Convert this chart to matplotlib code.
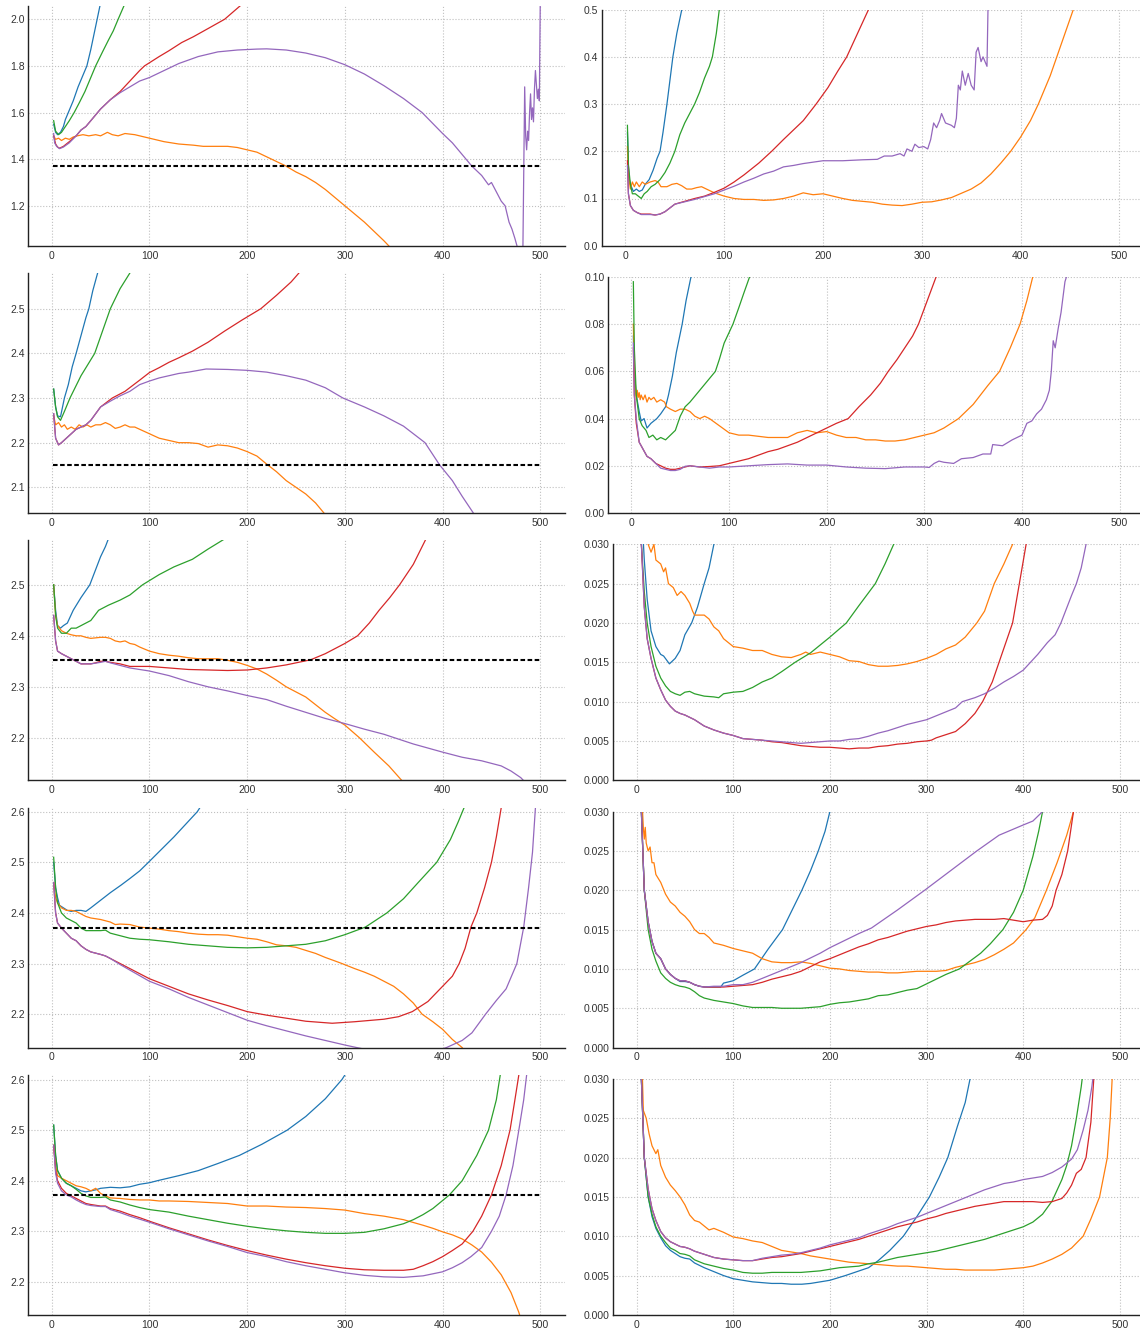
import numpy as np
import matplotlib
matplotlib.use("Agg")
import matplotlib.pyplot as plt
from matplotlib.ticker import MultipleLocator

plt.rcParams['font.family'] = ['Liberation Sans', 'DejaVu Sans']
plt.rcParams['font.size'] = 7.5

# ---- row 1 ----
R1L_BLUE = [(2,1.55),(4,1.515),(6,1.505),(9,1.515),(12,1.54),(14,1.57),(17,1.6),(22,1.65),(27,1.71),(32,1.76),(36,1.8),(40,1.87),(44,1.95),(47,2.01),(50,2.07)]
R1L_ORANGE = [(2,1.5),(4,1.485),(7,1.49),(10,1.48),(14,1.49),(18,1.485),(22,1.495),(26,1.5),(32,1.505),(38,1.5),(45,1.505),(50,1.5),(57,1.515),(62,1.505),(68,1.5),(75,1.51),(85,1.505),(95,1.495),(105,1.485),(115,1.475),(130,1.465),(145,1.46),(155,1.455),(165,1.455),(180,1.455),(190,1.45),(200,1.44),(210,1.43),(220,1.41),(230,1.39),(239,1.372),(250,1.345),(260,1.325),(270,1.3),(280,1.27),(290,1.235),(300,1.2),(310,1.165),(320,1.13),(330,1.09),(340,1.05),(345,1.028),(350,1.005)]
R1L_GREEN = [(2,1.565),(4,1.52),(7,1.505),(10,1.515),(14,1.54),(18,1.565),(23,1.6),(28,1.64),(34,1.69),(40,1.75),(45,1.8),(52,1.86),(58,1.91),(63,1.95),(68,2.0),(74,2.058),(77,2.09)]
R1L_RED = [(2,1.5),(4,1.465),(6,1.452),(8,1.447),(12,1.455),(18,1.475),(25,1.5),(30,1.525),(35,1.54),(40,1.565),(45,1.59),(50,1.615),(60,1.655),(70,1.69),(80,1.735),(90,1.78),(95,1.8),(110,1.84),(120,1.865),(133,1.9),(145,1.925),(160,1.96),(177,2.0),(193,2.058),(198,2.075)]
R1L_PURPLE = [(2,1.51),(3,1.47),(5,1.455),(8,1.445),(12,1.452),(18,1.47),(25,1.5),(30,1.525),(35,1.54),(40,1.565),(45,1.59),(50,1.615),(60,1.655),(70,1.685),(80,1.71),(90,1.735),(100,1.75),(115,1.78),(130,1.81),(150,1.84),(170,1.86),(190,1.868),(210,1.872),(220,1.873),(240,1.868),(260,1.855),(280,1.835),(300,1.805),(320,1.765),(340,1.715),(360,1.66),(379,1.6),(400,1.51),(410,1.47),(424,1.4),(430,1.37),(440,1.33),(447,1.29),(450,1.3),(455,1.26),(460,1.22),(464,1.2),(468,1.13),(471,1.1),(474,1.06),(476,1.03),(479,0.98),(482,0.95),(484,1.71),(485,1.5),(486,1.44),(487,1.52),(488,1.48),(489,1.6),(490,1.68),(491,1.57),(492,1.62),(493,1.56),(494,1.7),(495,1.78),(496,1.72),(497,1.66),(498,1.7),(499,1.65),(500,2.1)]

R1R_BLUE = [(2,0.24),(3,0.17),(4,0.14),(6,0.125),(8,0.115),(11,0.12),(14,0.115),(17,0.118),(20,0.13),(24,0.14),(28,0.16),(32,0.185),(35,0.2),(38,0.24),(42,0.3),(45,0.35),(48,0.4),(52,0.45),(57,0.5),(59,0.53)]
R1R_ORANGE = [(2,0.21),(3,0.15),(5,0.12),(7,0.135),(9,0.125),(11,0.135),(14,0.125),(17,0.135),(20,0.13),(25,0.135),(30,0.138),(33,0.135),(36,0.125),(42,0.125),(47,0.13),(52,0.132),(57,0.127),(62,0.12),(67,0.12),(72,0.123),(77,0.125),(82,0.12),(90,0.112),(100,0.105),(110,0.1),(120,0.098),(130,0.098),(140,0.096),(150,0.097),(160,0.1),(170,0.105),(180,0.112),(190,0.108),(200,0.11),(210,0.105),(220,0.1),(230,0.096),(240,0.094),(250,0.092),(260,0.088),(270,0.086),(280,0.085),(290,0.088),(300,0.092),(310,0.093),(320,0.097),(330,0.102),(340,0.111),(350,0.12),(360,0.133),(370,0.152),(380,0.175),(390,0.2),(400,0.23),(410,0.265),(418,0.3),(430,0.36),(440,0.42),(450,0.48),(455,0.51)]
R1R_GREEN = [(2,0.255),(3,0.17),(5,0.13),(7,0.11),(10,0.11),(13,0.105),(16,0.1),(19,0.11),(22,0.115),(26,0.125),(30,0.13),(35,0.14),(40,0.155),(45,0.175),(50,0.2),(55,0.235),(60,0.26),(65,0.28),(70,0.3),(75,0.325),(80,0.355),(85,0.38),(88,0.4),(92,0.45),(95,0.5),(97,0.53)]
R1R_RED = [(2,0.18),(3,0.11),(5,0.085),(8,0.075),(12,0.07),(16,0.067),(20,0.067),(25,0.067),(30,0.065),(35,0.067),(40,0.072),(45,0.08),(50,0.088),(60,0.094),(70,0.1),(80,0.105),(90,0.113),(100,0.122),(110,0.135),(120,0.15),(135,0.175),(148,0.2),(160,0.225),(170,0.245),(180,0.265),(193,0.3),(205,0.335),(215,0.37),(224,0.4),(235,0.45),(246,0.5),(250,0.52)]
R1R_PURPLE = [(2,0.17),(3,0.11),(5,0.085),(8,0.075),(12,0.07),(16,0.066),(20,0.066),(25,0.066),(30,0.065),(35,0.067),(40,0.072),(45,0.08),(50,0.088),(60,0.093),(70,0.098),(80,0.104),(90,0.11),(100,0.118),(110,0.126),(120,0.135),(130,0.143),(140,0.152),(150,0.158),(160,0.167),(170,0.17),(180,0.174),(190,0.177),(200,0.18),(220,0.18),(240,0.182),(255,0.183),(262,0.19),(270,0.19),(278,0.195),(282,0.19),(285,0.205),(290,0.2),(293,0.215),(297,0.208),(302,0.21),(306,0.205),(309,0.225),(312,0.26),(315,0.25),(318,0.265),(320,0.28),(324,0.26),(330,0.255),(333,0.25),(335,0.27),(337,0.34),(339,0.33),(341,0.37),(344,0.34),(347,0.365),(350,0.34),(353,0.33),(355,0.41),(357,0.42),(360,0.39),(362,0.4),(364,0.39),(366,0.38),(367,0.5),(368,0.53)]

# ---- row 2 ----
R2L_BLUE = [(2,2.32),(4,2.28),(6,2.26),(9,2.258),(13,2.3),(17,2.33),(21,2.37),(25,2.4),(30,2.44),(35,2.48),(38,2.5),(42,2.54),(47,2.58),(50,2.61)]
R2L_ORANGE = [(2,2.26),(4,2.24),(7,2.245),(10,2.235),(13,2.24),(16,2.23),(20,2.235),(24,2.23),(28,2.24),(32,2.235),(36,2.24),(40,2.235),(45,2.24),(50,2.24),(55,2.245),(60,2.24),(65,2.232),(70,2.235),(75,2.24),(80,2.235),(85,2.235),(90,2.23),(100,2.22),(110,2.21),(120,2.205),(130,2.2),(140,2.2),(150,2.198),(160,2.19),(170,2.195),(180,2.193),(190,2.188),(200,2.18),(210,2.17),(220,2.152),(230,2.135),(240,2.115),(250,2.1),(260,2.085),(270,2.065),(278,2.044),(285,2.025)]
R2L_GREEN = [(2,2.32),(4,2.28),(6,2.258),(9,2.25),(13,2.27),(18.7,2.3),(30,2.35),(44,2.4),(52,2.45),(60,2.5),(70,2.545),(80,2.58),(84,2.6)]
R2L_RED = [(2,2.265),(4,2.21),(7,2.195),(10,2.2),(15,2.21),(20,2.22),(25,2.23),(30,2.235),(35,2.24),(40,2.25),(45,2.265),(50,2.28),(62,2.3),(75,2.315),(90,2.34),(100,2.357),(110,2.368),(120,2.38),(130,2.39),(144,2.405),(160,2.425),(177,2.45),(195,2.475),(214,2.5),(230,2.53),(245,2.56),(253,2.58),(258,2.6)]
R2L_PURPLE = [(2,2.265),(4,2.21),(7,2.195),(10,2.2),(15,2.21),(20,2.22),(25,2.23),(30,2.235),(35,2.24),(40,2.25),(45,2.265),(50,2.28),(60,2.293),(70,2.305),(80,2.315),(90,2.33),(100,2.338),(110,2.345),(120,2.35),(130,2.355),(140,2.358),(158,2.365),(180,2.364),(200,2.362),(220,2.358),(240,2.35),(260,2.34),(280,2.323),(298,2.3),(320,2.28),(340,2.26),(360,2.237),(382,2.2),(397,2.15),(410,2.115),(420,2.08),(431,2.044),(435,2.03)]

R2R_BLUE = [(2,0.075),(3,0.06),(5,0.05),(8,0.043),(10,0.039),(13,0.04),(16,0.036),(20,0.038),(23,0.039),(26,0.04),(30,0.042),(35,0.045),(38,0.05),(42,0.058),(46,0.068),(52,0.08),(56,0.09),(61,0.1),(63,0.104)]
R2R_ORANGE = [(2,0.08),(3,0.06),(4,0.053),(5,0.048),(6,0.052),(7,0.049),(8,0.051),(9,0.048),(10,0.05),(12,0.048),(14,0.05),(16,0.047),(18,0.049),(20,0.048),(23,0.049),(26,0.047),(30,0.048),(34,0.047),(36,0.045),(40,0.044),(45,0.043),(50,0.044),(55,0.044),(60,0.043),(65,0.041),(70,0.04),(75,0.041),(80,0.04),(90,0.037),(100,0.034),(110,0.033),(120,0.033),(130,0.0325),(140,0.032),(150,0.032),(160,0.032),(170,0.034),(180,0.035),(190,0.034),(200,0.0345),(210,0.033),(220,0.032),(230,0.032),(240,0.031),(250,0.031),(260,0.0305),(270,0.0305),(280,0.031),(290,0.032),(300,0.033),(310,0.034),(320,0.036),(335,0.04),(350,0.046),(365,0.054),(377,0.06),(388,0.07),(398,0.08),(405,0.09),(411,0.1),(414,0.105)]
R2R_GREEN = [(2,0.098),(3,0.07),(5,0.05),(8,0.04),(11,0.037),(15,0.035),(18,0.032),(22,0.033),(26,0.031),(30,0.032),(35,0.031),(40,0.033),(45,0.035),(50,0.041),(55,0.045),(60,0.047),(70,0.052),(80,0.057),(86,0.06),(90,0.065),(95,0.072),(104,0.08),(110,0.087),(115,0.093),(121,0.1),(123,0.103)]
R2R_RED = [(2,0.07),(3,0.05),(5,0.038),(8,0.03),(12,0.027),(16,0.024),(20,0.023),(25,0.021),(30,0.02),(35,0.019),(40,0.0185),(45,0.0185),(50,0.019),(55,0.0195),(60,0.02),(70,0.0195),(80,0.0197),(90,0.02),(100,0.021),(110,0.022),(120,0.023),(130,0.0245),(140,0.026),(150,0.027),(160,0.0285),(170,0.03),(180,0.032),(190,0.034),(200,0.036),(210,0.038),(222,0.04),(233,0.045),(245,0.05),(255,0.055),(263,0.06),(272,0.065),(280,0.07),(288,0.075),(294,0.08),(303,0.09),(312,0.1),(314,0.104)]
R2R_PURPLE = [(2,0.072),(3,0.05),(5,0.04),(8,0.03),(12,0.027),(16,0.024),(20,0.023),(25,0.021),(30,0.019),(35,0.0185),(40,0.018),(45,0.018),(50,0.0185),(55,0.0198),(60,0.02),(70,0.0195),(80,0.019),(90,0.0195),(100,0.0195),(120,0.02),(140,0.0205),(160,0.0208),(180,0.0203),(200,0.0203),(220,0.0195),(240,0.019),(260,0.0188),(280,0.0195),(300,0.0195),(305,0.0193),(310,0.021),(315,0.022),(320,0.0215),(330,0.021),(338,0.023),(350,0.0235),(360,0.025),(368,0.025),(370,0.029),(380,0.0285),(390,0.031),(400,0.033),(405,0.038),(410,0.039),(415,0.042),(420,0.044),(425,0.048),(428,0.052),(430,0.06),(432,0.073),(434,0.07),(437,0.078),(440,0.085),(444,0.098),(447,0.102)]

# ---- row 3 ----
R3L_BLUE = [(2,2.5),(4,2.45),(6,2.42),(9,2.415),(12,2.42),(16,2.425),(22,2.45),(30,2.475),(39,2.5),(45,2.53),(50,2.555),(55,2.575),(58,2.59),(60,2.6)]
R3L_ORANGE = [(2,2.5),(4,2.44),(6,2.42),(10,2.41),(15,2.405),(20,2.402),(25,2.4),(30,2.4),(35,2.397),(40,2.395),(45,2.396),(50,2.397),(55,2.397),(60,2.395),(65,2.39),(70,2.388),(75,2.39),(80,2.385),(85,2.383),(90,2.378),(100,2.37),(110,2.365),(120,2.362),(130,2.36),(140,2.357),(150,2.355),(160,2.355),(170,2.355),(180,2.352),(190,2.348),(200,2.342),(210,2.335),(220,2.325),(230,2.313),(240,2.3),(250,2.29),(260,2.28),(270,2.265),(280,2.25),(290,2.237),(300,2.225),(315,2.2),(330,2.172),(345,2.145),(358,2.117),(362,2.108)]
R3L_GREEN = [(2,2.5),(4,2.44),(6,2.415),(10,2.405),(15,2.405),(20,2.415),(25,2.415),(30,2.42),(40,2.43),(48,2.45),(58,2.46),(70,2.47),(80,2.48),(93,2.5),(110,2.52),(125,2.535),(144,2.55),(160,2.57),(177,2.59),(182,2.6)]
R3L_RED = [(2,2.44),(4,2.39),(6,2.37),(10,2.365),(15,2.36),(20,2.355),(25,2.35),(30,2.345),(35,2.345),(40,2.345),(45,2.347),(50,2.35),(55,2.35),(60,2.348),(70,2.345),(80,2.34),(90,2.34),(100,2.34),(120,2.337),(140,2.334),(160,2.333),(180,2.332),(200,2.333),(210,2.335),(220,2.337),(230,2.34),(240,2.343),(250,2.347),(265,2.353),(280,2.365),(290,2.375),(300,2.385),(313,2.4),(325,2.425),(335,2.45),(346,2.475),(356,2.5),(370,2.54),(383,2.59),(387,2.6)]
R3L_PURPLE = [(2,2.44),(4,2.39),(6,2.37),(10,2.365),(15,2.36),(20,2.355),(25,2.35),(30,2.345),(40,2.345),(50,2.348),(55,2.35),(60,2.347),(70,2.342),(80,2.337),(90,2.334),(100,2.331),(120,2.322),(140,2.31),(160,2.3),(180,2.292),(200,2.283),(220,2.275),(240,2.262),(260,2.25),(280,2.238),(300,2.228),(320,2.217),(340,2.207),(351,2.2),(370,2.188),(400,2.172),(420,2.162),(440,2.155),(460,2.145),(470,2.135),(480,2.122),(485,2.112)]

R3R_BLUE = [(2,0.05),(5,0.035),(8,0.028),(11,0.023),(15,0.019),(20,0.017),(25,0.016),(28,0.0158),(34,0.0148),(40,0.0155),(45,0.0165),(50,0.0185),(57,0.02),(63,0.022),(70,0.025),(75,0.027),(80,0.03),(82,0.031)]
R3R_ORANGE = [(2,0.06),(5,0.042),(8,0.034),(10,0.031),(12,0.03),(15,0.029),(18,0.03),(20,0.028),(25,0.0275),(28,0.0265),(30,0.027),(33,0.025),(38,0.0245),(42,0.0235),(46,0.024),(50,0.0235),(55,0.0225),(58,0.0215),(60,0.021),(65,0.021),(70,0.021),(75,0.0205),(80,0.0195),(85,0.019),(90,0.018),(95,0.0175),(100,0.017),(110,0.0168),(120,0.0165),(130,0.0165),(140,0.016),(150,0.0157),(160,0.0156),(170,0.016),(175,0.0163),(180,0.016),(190,0.0163),(200,0.016),(210,0.0157),(220,0.0152),(230,0.0151),(240,0.0147),(250,0.0145),(260,0.0145),(270,0.0146),(280,0.0148),(290,0.0151),(300,0.0155),(310,0.016),(320,0.0167),(330,0.0172),(340,0.0182),(352,0.02),(360,0.0215),(370,0.025),(380,0.0275),(389,0.03),(392,0.031)]
R3R_GREEN = [(2,0.05),(5,0.03),(8,0.024),(11,0.02),(15,0.017),(20,0.0145),(25,0.013),(30,0.012),(35,0.0113),(40,0.011),(45,0.0108),(50,0.0112),(55,0.0113),(60,0.011),(70,0.0107),(80,0.0106),(85,0.0105),(90,0.011),(100,0.0112),(110,0.0113),(120,0.0118),(130,0.0125),(140,0.013),(150,0.0138),(164,0.015),(180,0.0162),(200,0.0182),(217,0.02),(230,0.0222),(247,0.025),(257,0.0275),(266,0.03),(268,0.0305)]
R3R_RED = [(2,0.05),(5,0.03),(8,0.022),(11,0.018),(15,0.0155),(20,0.013),(25,0.0115),(30,0.0102),(35,0.0094),(40,0.0088),(45,0.0085),(50,0.0083),(60,0.0077),(70,0.0069),(80,0.0064),(90,0.006),(100,0.0057),(110,0.0053),(120,0.0052),(130,0.0051),(140,0.0049),(150,0.0048),(160,0.0046),(170,0.0044),(180,0.0043),(190,0.0042),(200,0.0042),(210,0.0041),(220,0.004),(230,0.0041),(240,0.0041),(250,0.0043),(260,0.0044),(270,0.0046),(280,0.0047),(290,0.0049),(300,0.005),(305,0.0051),(310,0.0054),(320,0.0058),(330,0.0062),(340,0.0072),(350,0.0085),(358,0.01),(368,0.0125),(375,0.015),(382,0.0175),(389,0.02),(396,0.025),(403,0.03),(406,0.032)]
R3R_PURPLE = [(2,0.05),(5,0.03),(8,0.022),(11,0.018),(15,0.0155),(20,0.013),(25,0.0115),(30,0.0102),(35,0.0094),(40,0.0088),(45,0.0085),(50,0.0083),(60,0.0077),(70,0.0069),(80,0.0064),(90,0.006),(100,0.0057),(110,0.0053),(120,0.0052),(140,0.005),(160,0.0048),(170,0.0047),(180,0.0048),(190,0.0049),(200,0.005),(210,0.005),(220,0.0052),(230,0.0053),(240,0.0056),(250,0.006),(260,0.0063),(270,0.0067),(280,0.0071),(290,0.0074),(300,0.0077),(310,0.0082),(320,0.0087),(330,0.0092),(337,0.01),(350,0.0105),(360,0.011),(370,0.0117),(380,0.0125),(390,0.0132),(400,0.014),(406,0.0148),(415,0.016),(425,0.0175),(433,0.0185),(439,0.02),(450,0.0235),(455,0.025),(460,0.027),(465,0.03),(467,0.031)]

# ---- row 4 ----
R4L_BLUE = [(2,2.5),(4,2.45),(6,2.43),(8,2.415),(12,2.41),(16,2.405),(20,2.403),(25,2.405),(30,2.405),(35,2.403),(40,2.41),(50,2.425),(60,2.44),(71,2.455),(80,2.468),(90,2.483),(99,2.5),(112,2.525),(125,2.55),(137,2.575),(149,2.6),(153,2.612)]
R4L_ORANGE = [(2,2.46),(4,2.43),(6,2.42),(10,2.41),(15,2.405),(20,2.405),(25,2.403),(30,2.398),(35,2.393),(40,2.39),(50,2.387),(60,2.382),(65,2.377),(70,2.378),(80,2.377),(90,2.372),(100,2.37),(110,2.368),(120,2.365),(130,2.363),(140,2.36),(150,2.358),(160,2.357),(170,2.357),(180,2.356),(190,2.353),(200,2.35),(210,2.348),(220,2.343),(230,2.337),(240,2.335),(250,2.332),(260,2.326),(270,2.32),(280,2.312),(290,2.305),(297,2.3),(310,2.29),(320,2.283),(330,2.275),(340,2.265),(350,2.255),(360,2.24),(370,2.222),(379,2.2),(390,2.185),(400,2.17),(410,2.15),(420,2.134),(423,2.125)]
R4L_GREEN = [(2,2.51),(4,2.45),(6,2.42),(10,2.4),(15,2.39),(20,2.385),(25,2.38),(30,2.37),(35,2.365),(40,2.365),(50,2.365),(55,2.366),(60,2.36),(70,2.355),(80,2.35),(90,2.348),(100,2.347),(120,2.343),(140,2.338),(160,2.335),(180,2.332),(200,2.331),(220,2.332),(240,2.335),(260,2.338),(280,2.345),(300,2.357),(321,2.372),(343,2.4),(360,2.428),(375,2.46),(394,2.5),(408,2.545),(416,2.58),(422,2.608),(424,2.62)]
R4L_RED = [(2,2.46),(4,2.4),(6,2.38),(10,2.37),(15,2.36),(20,2.35),(25,2.345),(30,2.335),(35,2.328),(40,2.323),(50,2.318),(55,2.315),(60,2.31),(70,2.3),(80,2.29),(90,2.28),(100,2.27),(120,2.255),(140,2.24),(160,2.228),(180,2.217),(200,2.205),(220,2.198),(240,2.192),(260,2.186),(287,2.182),(310,2.185),(340,2.19),(355,2.195),(369,2.205),(385,2.225),(400,2.255),(410,2.275),(417,2.3),(423,2.33),(429,2.372),(435,2.4),(443,2.45),(450,2.5),(455,2.55),(460,2.608),(462,2.63)]
R4L_PURPLE = [(2,2.46),(4,2.4),(6,2.38),(10,2.37),(15,2.36),(20,2.35),(25,2.345),(30,2.335),(35,2.328),(40,2.323),(50,2.318),(55,2.315),(60,2.31),(70,2.298),(80,2.287),(90,2.276),(100,2.265),(120,2.25),(140,2.233),(160,2.218),(180,2.203),(200,2.188),(220,2.177),(240,2.167),(260,2.157),(280,2.148),(300,2.139),(312,2.134),(330,2.127),(350,2.122),(370,2.12),(390,2.125),(404,2.134),(420,2.148),(430,2.163),(444,2.2),(455,2.227),(465,2.25),(476,2.3),(483,2.372),(488,2.45),(492,2.52),(495,2.608),(497,2.65)]

R4R_BLUE = [(2,0.05),(5,0.03),(8,0.02),(12,0.016),(16,0.0135),(20,0.012),(25,0.0113),(30,0.01),(35,0.0093),(40,0.0088),(45,0.0084),(50,0.0084),(55,0.0083),(60,0.008),(65,0.0078),(70,0.0077),(80,0.0077),(87,0.0077),(90,0.0082),(100,0.0085),(110,0.0092),(122,0.01),(136,0.0125),(151,0.015),(161,0.0175),(171,0.02),(180,0.0225),(188,0.025),(195,0.0275),(200,0.03),(202,0.031)]
R4R_ORANGE = [(2,0.05),(4,0.04),(5,0.033),(7,0.028),(8,0.0265),(9,0.028),(10,0.026),(12,0.025),(14,0.0255),(16,0.0235),(18,0.0235),(20,0.022),(25,0.021),(30,0.0195),(35,0.0185),(40,0.018),(45,0.0172),(50,0.0167),(55,0.016),(60,0.015),(65,0.0145),(70,0.0145),(75,0.014),(80,0.0133),(90,0.013),(100,0.0126),(110,0.0123),(120,0.012),(130,0.0113),(140,0.0109),(150,0.0108),(160,0.0108),(170,0.0109),(180,0.0107),(190,0.0104),(200,0.0101),(210,0.01),(220,0.0098),(230,0.0097),(240,0.0096),(250,0.0096),(260,0.0095),(270,0.0095),(280,0.0096),(290,0.0097),(300,0.0097),(310,0.0097),(320,0.0098),(330,0.0102),(340,0.0105),(350,0.0108),(360,0.0112),(370,0.0118),(380,0.0125),(390,0.0133),(403,0.015),(412,0.0165),(424,0.02),(435,0.0235),(445,0.027),(452,0.03),(455,0.032)]
R4R_GREEN = [(2,0.05),(5,0.03),(8,0.02),(12,0.015),(16,0.0125),(20,0.011),(25,0.0095),(30,0.0088),(35,0.0083),(40,0.008),(45,0.0078),(50,0.0077),(55,0.0075),(60,0.0071),(65,0.0066),(70,0.0063),(80,0.006),(90,0.0058),(100,0.0056),(110,0.0053),(120,0.0051),(130,0.0051),(140,0.0051),(150,0.005),(160,0.005),(170,0.005),(180,0.0051),(190,0.0052),(200,0.0055),(210,0.0057),(220,0.0058),(230,0.006),(240,0.0062),(250,0.0066),(260,0.0067),(270,0.007),(280,0.0073),(290,0.0075),(300,0.0081),(310,0.0087),(320,0.0093),(334,0.01),(345,0.011),(356,0.012),(366,0.0132),(379,0.015),(390,0.0172),(400,0.02),(410,0.0243),(416,0.0275),(420,0.03),(422,0.032)]
R4R_RED = [(2,0.05),(5,0.03),(8,0.02),(12,0.016),(16,0.0135),(20,0.012),(25,0.0113),(30,0.01),(35,0.0093),(40,0.0088),(45,0.0085),(50,0.0085),(55,0.0083),(60,0.008),(65,0.0078),(70,0.0077),(80,0.0077),(90,0.0077),(100,0.0078),(110,0.0079),(120,0.008),(130,0.0083),(140,0.0087),(150,0.009),(160,0.0093),(170,0.0097),(180,0.0103),(190,0.0109),(200,0.0113),(210,0.0118),(220,0.0123),(230,0.0128),(240,0.0132),(250,0.0137),(260,0.014),(270,0.0144),(280,0.0148),(290,0.0151),(300,0.0154),(310,0.0156),(320,0.0159),(330,0.0161),(340,0.0162),(350,0.0163),(360,0.0163),(370,0.0163),(380,0.0164),(390,0.0162),(400,0.016),(410,0.0162),(420,0.0163),(425,0.0168),(430,0.018),(434,0.02),(440,0.022),(446,0.025),(452,0.03),(454,0.032)]
R4R_PURPLE = [(2,0.05),(5,0.03),(8,0.02),(12,0.016),(16,0.0135),(20,0.012),(25,0.0113),(30,0.01),(35,0.0093),(40,0.0088),(45,0.0085),(50,0.0085),(55,0.0083),(60,0.008),(65,0.0078),(70,0.0077),(80,0.0078),(90,0.0078),(100,0.008),(110,0.008),(120,0.0083),(130,0.0088),(140,0.0093),(150,0.0098),(160,0.0103),(170,0.0108),(180,0.0114),(190,0.012),(200,0.0127),(210,0.0133),(220,0.0139),(230,0.0145),(243,0.0152),(270,0.0175),(298,0.02),(325,0.0225),(352,0.025),(375,0.027),(400,0.0283),(410,0.0288),(420,0.03),(423,0.0305)]

# ---- row 5 ----
R5L_BLUE = [(2,2.51),(4,2.45),(6,2.42),(10,2.405),(15,2.395),(20,2.39),(25,2.385),(30,2.38),(35,2.378),(40,2.38),(45,2.382),(50,2.385),(60,2.387),(70,2.386),(80,2.388),(90,2.393),(100,2.396),(108,2.4),(130,2.41),(150,2.42),(170,2.434),(192,2.45),(215,2.472),(241,2.5),(260,2.527),(280,2.562),(297,2.6),(302,2.615)]
R5L_ORANGE = [(2,2.47),(4,2.43),(6,2.41),(10,2.405),(15,2.4),(20,2.395),(25,2.39),(30,2.388),(35,2.385),(40,2.38),(45,2.385),(50,2.375),(55,2.37),(60,2.366),(70,2.365),(80,2.363),(90,2.362),(100,2.362),(110,2.36),(120,2.36),(140,2.359),(160,2.357),(180,2.355),(200,2.35),(220,2.35),(240,2.348),(260,2.347),(280,2.345),(300,2.342),(320,2.335),(340,2.33),(360,2.323),(380,2.312),(390,2.306),(400,2.299),(410,2.293),(420,2.285),(430,2.273),(440,2.259),(450,2.239),(460,2.214),(470,2.179),(478,2.14),(481,2.12)]
R5L_GREEN = [(2,2.51),(4,2.45),(6,2.42),(10,2.405),(15,2.395),(20,2.39),(25,2.383),(30,2.375),(35,2.37),(40,2.367),(50,2.367),(55,2.368),(60,2.362),(70,2.358),(80,2.352),(90,2.347),(100,2.343),(120,2.338),(140,2.33),(160,2.323),(180,2.316),(200,2.31),(220,2.305),(240,2.301),(260,2.298),(280,2.296),(300,2.296),(320,2.298),(340,2.305),(360,2.315),(370,2.323),(380,2.333),(390,2.345),(407,2.372),(420,2.4),(435,2.45),(447,2.5),(455,2.56),(459,2.609),(461,2.62)]
R5L_RED = [(2,2.47),(4,2.42),(6,2.4),(10,2.385),(15,2.375),(20,2.37),(25,2.365),(30,2.36),(35,2.355),(40,2.353),(50,2.35),(55,2.35),(60,2.345),(70,2.34),(80,2.333),(90,2.327),(100,2.32),(120,2.307),(140,2.295),(160,2.283),(180,2.272),(200,2.262),(220,2.253),(240,2.245),(260,2.238),(280,2.232),(300,2.227),(320,2.224),(340,2.223),(360,2.223),(370,2.225),(380,2.232),(390,2.24),(400,2.25),(410,2.262),(420,2.275),(431,2.3),(440,2.33),(450,2.372),(460,2.43),(469,2.5),(474,2.56),(478,2.609),(480,2.63)]
R5L_PURPLE = [(2,2.47),(4,2.415),(6,2.395),(10,2.38),(15,2.372),(20,2.368),(25,2.362),(30,2.357),(35,2.353),(40,2.351),(50,2.349),(55,2.349),(60,2.343),(70,2.337),(80,2.33),(90,2.324),(100,2.318),(120,2.305),(140,2.293),(160,2.281),(180,2.27),(200,2.258),(220,2.25),(240,2.24),(260,2.232),(280,2.225),(300,2.218),(320,2.213),(340,2.21),(360,2.209),(380,2.212),(400,2.22),(410,2.228),(420,2.238),(429,2.25),(440,2.268),(450,2.3),(458,2.33),(465,2.372),(472,2.43),(478,2.5),(483,2.56),(486,2.609),(488,2.64)]

R5R_BLUE = [(2,0.05),(5,0.03),(8,0.02),(12,0.015),(16,0.0125),(20,0.011),(25,0.0098),(30,0.0088),(35,0.0082),(40,0.0078),(45,0.0074),(50,0.0072),(55,0.0071),(60,0.0066),(70,0.006),(80,0.0055),(90,0.005),(100,0.0046),(110,0.0044),(120,0.0042),(130,0.0041),(140,0.004),(150,0.004),(160,0.0039),(171,0.0039),(180,0.004),(190,0.0042),(200,0.0044),(216,0.005),(240,0.006),(250,0.0069),(262,0.0082),(276,0.01),(290,0.0125),(303,0.015),(313,0.0175),(322,0.02),(332,0.024),(340,0.027),(345,0.03),(348,0.032)]
R5R_ORANGE = [(2,0.06),(5,0.035),(7,0.026),(10,0.025),(13,0.023),(16,0.0215),(20,0.0205),(22,0.021),(25,0.019),(30,0.0175),(35,0.0165),(40,0.0158),(45,0.015),(50,0.014),(55,0.0127),(60,0.012),(65,0.0118),(70,0.0113),(75,0.0108),(80,0.011),(90,0.0105),(100,0.0099),(110,0.0097),(120,0.0094),(130,0.0092),(140,0.0087),(150,0.0082),(160,0.008),(170,0.0078),(180,0.0075),(190,0.0073),(200,0.0071),(210,0.0069),(220,0.0067),(230,0.0066),(240,0.0065),(250,0.0064),(260,0.0063),(270,0.0062),(280,0.0062),(290,0.0061),(300,0.006),(310,0.0059),(320,0.0058),(330,0.0058),(340,0.0057),(350,0.0057),(360,0.0057),(370,0.0057),(380,0.0058),(390,0.0059),(400,0.006),(410,0.0062),(420,0.0066),(430,0.0071),(440,0.0077),(450,0.0085),(462,0.01),(470,0.0122),(479,0.015),(487,0.02),(490,0.025),(492,0.03),(493,0.032)]
R5R_GREEN = [(2,0.05),(5,0.03),(8,0.02),(12,0.015),(16,0.0128),(20,0.0112),(25,0.01),(30,0.0092),(35,0.0085),(40,0.0082),(45,0.0078),(50,0.0077),(55,0.0075),(60,0.007),(70,0.0065),(80,0.0062),(90,0.0059),(100,0.0057),(110,0.0054),(120,0.0053),(130,0.0053),(140,0.0054),(150,0.0054),(160,0.0054),(170,0.0054),(180,0.0055),(190,0.0056),(200,0.0058),(210,0.006),(220,0.0061),(230,0.0062),(240,0.0065),(250,0.0067),(260,0.007),(270,0.0073),(280,0.0075),(290,0.0077),(300,0.0079),(310,0.0081),(320,0.0084),(330,0.0087),(340,0.009),(350,0.0093),(360,0.0096),(370,0.01),(380,0.0104),(390,0.0108),(400,0.0112),(410,0.0118),(420,0.0128),(430,0.0145),(440,0.0172),(445,0.019),(450,0.0215),(455,0.025),(460,0.029),(462,0.031)]
R5R_RED = [(2,0.05),(5,0.03),(8,0.02),(12,0.016),(16,0.0135),(20,0.012),(25,0.0106),(30,0.0098),(35,0.0093),(40,0.009),(45,0.0087),(50,0.0086),(55,0.0084),(60,0.0081),(70,0.0077),(80,0.0073),(90,0.0071),(100,0.007),(110,0.0069),(120,0.0069),(130,0.0071),(140,0.0073),(150,0.0074),(160,0.0076),(170,0.0078),(180,0.0081),(190,0.0084),(200,0.0087),(210,0.009),(220,0.0093),(230,0.0096),(240,0.01),(250,0.0104),(260,0.0108),(270,0.0112),(280,0.0115),(290,0.0118),(300,0.0122),(310,0.0125),(320,0.0129),(330,0.0132),(340,0.0135),(350,0.0138),(360,0.014),(370,0.0142),(380,0.0144),(390,0.0144),(400,0.0144),(410,0.0144),(420,0.0143),(430,0.0144),(440,0.0148),(445,0.0155),(450,0.0165),(455,0.018),(460,0.0185),(465,0.02),(470,0.0245),(473,0.03),(475,0.032)]
R5R_PURPLE = [(2,0.05),(5,0.03),(8,0.02),(12,0.016),(16,0.0135),(20,0.012),(25,0.0106),(30,0.0098),(35,0.0093),(40,0.009),(45,0.0087),(50,0.0086),(55,0.0084),(60,0.0081),(70,0.0077),(80,0.0073),(90,0.0071),(100,0.007),(110,0.0069),(120,0.0069),(130,0.0072),(140,0.0074),(150,0.0076),(160,0.0077),(170,0.0079),(180,0.0082),(190,0.0085),(200,0.0089),(210,0.0092),(220,0.0095),(230,0.0098),(240,0.0103),(250,0.0107),(260,0.0111),(270,0.0116),(280,0.012),(290,0.0124),(300,0.0129),(310,0.0134),(320,0.0139),(330,0.0144),(340,0.0149),(350,0.0154),(360,0.0159),(370,0.0163),(380,0.0167),(390,0.0169),(400,0.0172),(410,0.0174),(420,0.0176),(430,0.0181),(440,0.0188),(450,0.0198),(456,0.021),(462,0.0235),(467,0.026),(471,0.029),(473,0.031)]

# reference level (dashed line) in the left column, and axis ranges
REF_LEVELS = [1.372, 2.15, 2.352, 2.371, 2.372]
LEFT_YLIM_FACTORS = [(0.75, 1.5), (0.95, 1.2), (0.9, 1.1), (0.9, 1.1), (0.9, 1.1)]
LEFT_YSTEP = [0.2, 0.1, 0.1, 0.1, 0.1]
RIGHT_YTOP = [0.5, 0.1, 0.03, 0.03, 0.03]
RIGHT_YSTEP = [0.1, 0.02, 0.005, 0.005, 0.005]

LEFT_SERIES = [
    [R1L_BLUE, R1L_ORANGE, R1L_GREEN, R1L_RED, R1L_PURPLE],
    [R2L_BLUE, R2L_ORANGE, R2L_GREEN, R2L_RED, R2L_PURPLE],
    [R3L_BLUE, R3L_ORANGE, R3L_GREEN, R3L_RED, R3L_PURPLE],
    [R4L_BLUE, R4L_ORANGE, R4L_GREEN, R4L_RED, R4L_PURPLE],
    [R5L_BLUE, R5L_ORANGE, R5L_GREEN, R5L_RED, R5L_PURPLE],
]
RIGHT_SERIES = [
    [R1R_BLUE, R1R_ORANGE, R1R_GREEN, R1R_RED, R1R_PURPLE],
    [R2R_BLUE, R2R_ORANGE, R2R_GREEN, R2R_RED, R2R_PURPLE],
    [R3R_BLUE, R3R_ORANGE, R3R_GREEN, R3R_RED, R3R_PURPLE],
    [R4R_BLUE, R4R_ORANGE, R4R_GREEN, R4R_RED, R4R_PURPLE],
    [R5R_BLUE, R5R_ORANGE, R5R_GREEN, R5R_RED, R5R_PURPLE],
]
COLORS = ['#1f77b4', '#ff7f0e', '#2ca02c', '#d62728', '#9467bd']

W, H = 1140, 1331
fig = plt.figure(figsize=(W / 100, H / 100), dpi=100)


def px_axes(x0, x1, bottom, height):
    # pixel box -> figure fraction
    return fig.add_axes([x0 / W, 1 - bottom / H, (x1 - x0) / W, height / H])


def style(ax, ystep):
    for s in ['top', 'right']:
        ax.spines[s].set_visible(False)
    for s in ['left', 'bottom']:
        ax.spines[s].set_color('#222222')
        ax.spines[s].set_linewidth(1.0)
    ax.set_axisbelow(True)
    ax.grid(True, linestyle=':', color='#c0c0c0', linewidth=0.8)
    ax.xaxis.set_major_locator(MultipleLocator(100))
    ax.yaxis.set_major_locator(MultipleLocator(ystep))
    ax.tick_params(axis='both', length=0, labelcolor='#333333')
    ax.tick_params(axis='y', pad=2.5)
    ax.tick_params(axis='x', pad=3.5)
    ax.set_xlim(-23.95, 524.95)


def draw_lines(ax, series):
    for pts, c in zip(series, COLORS):
        xs, ys = zip(*pts)
        ax.plot(np.array(xs), np.array(ys), color=c, linewidth=0.9)


RIGHT_X0 = [601.8, 608.0, 613.4, 613.4, 613.4]
for i in range(5):
    bottom = 245.7 + 267.3 * i

    ax = px_axes(28.3, 564.7, bottom, 240)
    style(ax, LEFT_YSTEP[i])
    draw_lines(ax, LEFT_SERIES[i])
    ax.plot([1, 500], [REF_LEVELS[i], REF_LEVELS[i]], color='black',
            linewidth=1.5, linestyle=(0, (2.2, 1.2)))
    lo, hi = LEFT_YLIM_FACTORS[i]
    ax.set_ylim(REF_LEVELS[i] * lo, REF_LEVELS[i] * hi)

    ax = px_axes(RIGHT_X0[i], 1144, bottom, 236)
    style(ax, RIGHT_YSTEP[i])
    draw_lines(ax, RIGHT_SERIES[i])
    ax.set_ylim(0, RIGHT_YTOP[i])

fig.savefig('out.png', dpi=100)
